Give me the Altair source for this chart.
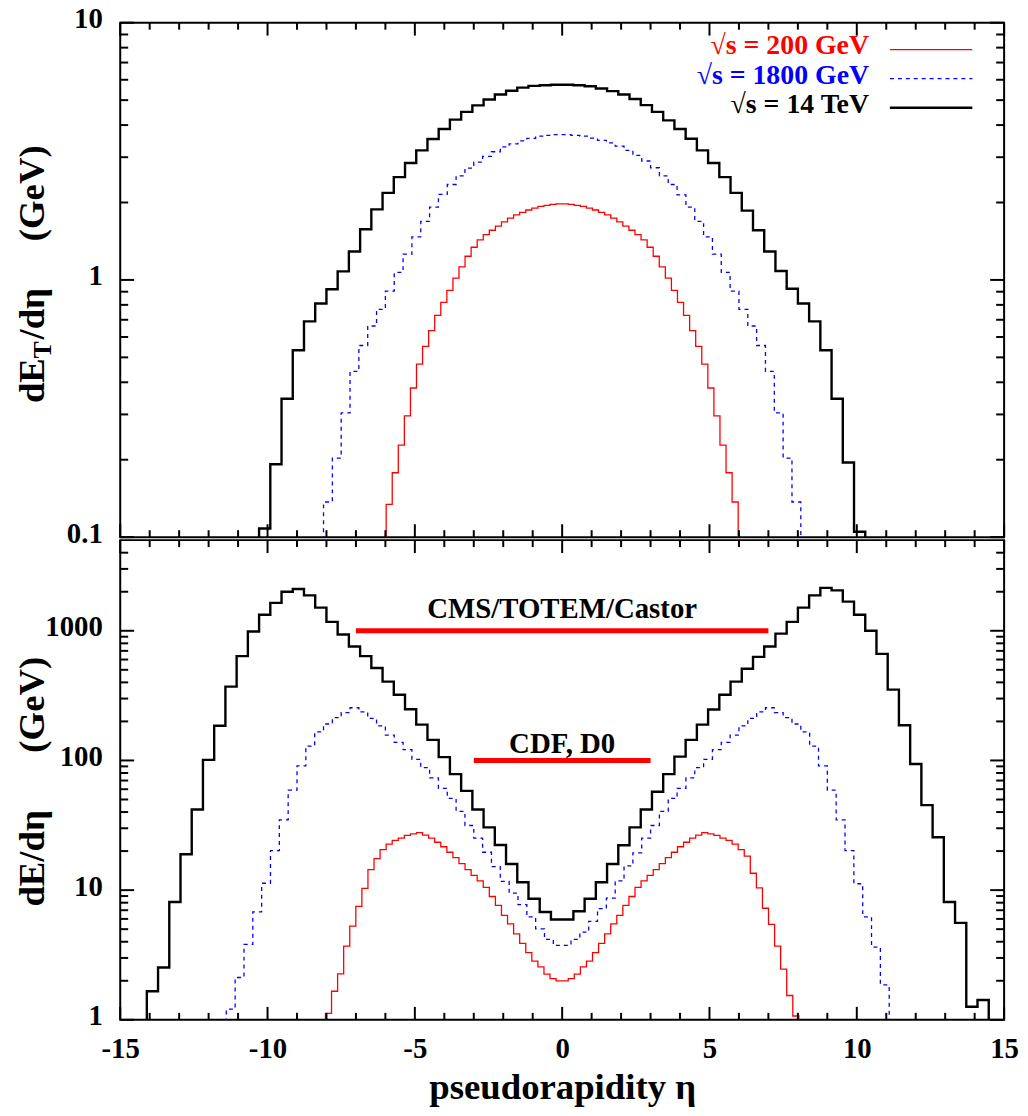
import altair as alt
import pandas as pd

# ---------------- data ----------------
SERIES = ["√s = 200 GeV", "√s = 1800 GeV", "√s = 14 TeV"]
COLORS = ["#ff0000", "#0000ff", "#000000"]
DASHES = [[1, 0], [4, 4], [1, 0]]
WIDTHS = [1.3, 1.3, 2.4]

# histogram bin widths (pseudorapidity units) and index of the first filled bin
BIN_WIDTH = [0.206, 0.3, 0.381]
TOP_FIRST_BIN = [-29, -27, -27]
BOTTOM_FIRST_BIN = [-39, -38, -37]

# upper panel: dE_T/deta (GeV)
TOP_RED = [0.134, 0.178, 0.228, 0.296, 0.38, 0.471, 0.552, 0.635, 0.728, 0.818,
           0.91, 1.016, 1.125, 1.236, 1.34, 1.43, 1.5, 1.56, 1.62, 1.68,
           1.74, 1.79, 1.83, 1.87, 1.9, 1.93, 1.95, 1.965, 1.975,
           1.975, 1.965, 1.95, 1.93, 1.9, 1.87, 1.83, 1.79, 1.74, 1.68,
           1.62, 1.56, 1.5, 1.43, 1.34, 1.236, 1.125, 1.016, 0.91, 0.818,
           0.728, 0.635, 0.552, 0.471, 0.38, 0.296, 0.228, 0.178, 0.137]
TOP_BLUE = [0.137, 0.203, 0.304, 0.441, 0.556, 0.662, 0.769, 0.904, 1.07, 1.26,
            1.47, 1.69, 1.92, 2.15, 2.35, 2.54, 2.72, 2.87, 3.02, 3.15,
            3.29, 3.38, 3.47, 3.55, 3.62, 3.65, 3.67,
            3.67, 3.65, 3.62, 3.56, 3.49, 3.41, 3.31, 3.19, 3.05, 2.9,
            2.73, 2.54, 2.35, 2.14, 1.92, 1.69, 1.47, 1.26, 1.07, 0.904,
            0.769, 0.662, 0.556, 0.441, 0.304, 0.203, 0.137]
TOP_BLACK = [0.108, 0.192, 0.345, 0.533, 0.69, 0.81, 0.92, 1.08, 1.29, 1.575,
             1.88, 2.18, 2.51, 2.85, 3.19, 3.53, 3.86, 4.2, 4.5, 4.77,
             5.03, 5.26, 5.44, 5.59, 5.68, 5.71, 5.74,
             5.74, 5.71, 5.66, 5.55, 5.42, 5.26, 5.05, 4.78, 4.5, 4.17,
             3.86, 3.54, 3.19, 2.85, 2.51, 2.18, 1.86, 1.56, 1.29, 1.083,
             0.924, 0.81, 0.69, 0.533, 0.345, 0.195, 0.105]

# lower panel: dE/deta (GeV)
BOTTOM_RED = [1.12, 1.66, 2.26, 3.7, 5.28, 7.5, 10.3, 14.4, 17.5, 20.5,
              22.6, 24.2, 25.2, 26.4, 27.2, 27.8, 26.6, 25.2, 23.4, 21.6,
              19.6, 17.8, 16.0, 14.4, 13.0, 11.8, 10.5, 8.93, 7.62, 6.39,
              5.49, 4.6, 3.88, 3.3, 2.84, 2.56, 2.25, 2.08, 2.0,
              2.0, 2.08, 2.25, 2.56, 2.84, 3.3, 3.88, 4.6, 5.49, 6.39,
              7.62, 8.93, 10.5, 11.8, 13.0, 14.4, 16.0, 17.8, 19.6, 21.6,
              23.4, 25.2, 26.6, 27.8, 27.2, 26.4, 25.2, 24.2, 22.6, 20.5,
              18.3, 13.5, 10.4, 7.25, 5.45, 3.7, 2.46, 1.54, 1.07]
BOTTOM_BLUE = [1.21, 2.12, 3.81, 6.79, 11.3, 20.2, 34.8, 59, 90.7, 129,
               166, 191, 214, 234, 255, 237, 211, 185, 157, 138,
               121, 102, 88, 73.4, 61, 51, 40.5, 31.5, 25.2, 19.6,
               15.2, 11.7, 9.5, 7.72, 6.21, 5.03, 4.17, 3.75,
               3.75, 4.17, 4.74, 5.75, 7.19, 8.68, 11.8, 15.4, 19.4, 25.2,
               31.5, 40.5, 51, 61, 73.4, 88, 102, 121, 138, 157,
               185, 211, 237, 255, 234, 214, 191, 166, 129, 90.7,
               59, 34.8, 20.2, 11.2, 6.22, 3.64, 1.86]
BOTTOM_BLACK = [1.66, 2.53, 8.1, 18.9, 41.9, 101, 185, 371, 638, 987,
                1329, 1641, 2000, 2098, 1875, 1507, 1172, 936, 757, 638,
                516, 405, 321, 248, 189, 144, 106, 78.5, 58.3, 41.9,
                30.5, 22.3, 15.9, 11.5, 8.58, 6.78, 5.93,
                5.93, 6.87, 8.58, 11.5, 15.9, 22.2, 30.5, 41.9, 57.4, 78.5,
                107, 144, 189, 247, 321, 405, 510, 629, 757, 950,
                1172, 1507, 1875, 2140, 2050, 1677, 1329, 1000, 664, 352,
                187, 94, 45.2, 25.6, 8.1, 5.59, 1.26, 1.42]

TOP_SETS = [TOP_RED, TOP_BLUE, TOP_BLACK]
BOTTOM_SETS = [BOTTOM_RED, BOTTOM_BLUE, BOTTOM_BLACK]

# detector coverage annotations (lower panel)
ANNOT_TEXT = ["CMS/TOTEM/Castor", "CDF, D0"]
ANNOT_FROM = [-7, -3]
ANNOT_TO = [7, 3]
ANNOT_LEVEL = [1000, 100]
ANNOT_DY = [-13, -8]

# axes ticks
X_MAJOR = [-15, -10, -5, 0, 5, 10, 15]
X_MINOR = [v for v in range(-14, 15) if v % 5 != 0]
TOP_Y_MAJOR = [0.1, 1, 10]
TOP_Y_MINOR = [0.2, 0.3, 0.4, 0.5, 0.6, 0.7, 0.8, 0.9, 2, 3, 4, 5, 6, 7, 8, 9]
BOTTOM_Y_MAJOR = [1, 10, 100, 1000]
BOTTOM_Y_MINOR = [2, 3, 4, 5, 6, 7, 8, 9, 20, 30, 40, 50, 60, 70, 80, 90,
                  200, 300, 400, 500, 600, 700, 800, 900, 2000, 3000, 4000]

# ---------------- layout / style ----------------
FONT = "Liberation Serif"
W = 890
H_TOP = 518
H_BOT = 483
XS = alt.Scale(domain=[-15, 15], nice=False, zero=False)
YS_TOP = alt.Scale(type="log", domain=[0.1, 10], nice=False)
YS_BOT = alt.Scale(type="log", domain=[1, 5000], nice=False)


def y_axis(values):
    return alt.Axis(values=values, labelExpr="'' + datum.value", title=None,
                    ticks=False, tickSize=0, domain=False, grid=False,
                    labelFont=FONT, labelFontWeight="bold", labelFontSize=29,
                    labelColor="black", labelPadding=18, labelOffset=-4)


Y_AXIS_TOP = y_axis(TOP_Y_MAJOR)
Y_AXIS_BOT = y_axis(BOTTOM_Y_MAJOR)
X_AXIS_BOTTOM = alt.Axis(values=X_MAJOR, labelExpr="'' + datum.value",
                         title="pseudorapidity η", ticks=False, tickSize=0,
                         domain=False, grid=False, labelFlush=False,
                         labelOverlap=False, labelFont=FONT,
                         labelFontWeight="bold", labelFontSize=29,
                         labelColor="black", labelPadding=15,
                         titleFont=FONT, titleFontWeight="bold",
                         titleFontSize=37, titleColor="black", titlePadding=6)


def hist_layer(values, first, width, yscale, floor, i, x_axis, yax):
    edges = [(first + k) * width for k in range(len(values) + 1)]
    eta = [edges[0]] + edges[:-1] + [edges[-1], edges[-1]]
    val = [floor] + list(values) + [values[-1], floor]
    df = pd.DataFrame({"eta": eta, "val": val, "order": list(range(len(eta)))})
    return alt.Chart(df).mark_line(
        interpolate="step-after", clip=True, color=COLORS[i],
        strokeWidth=WIDTHS[i], strokeDash=DASHES[i]
    ).encode(
        x=alt.X("eta:Q", scale=XS, axis=x_axis),
        y=alt.Y("val:Q", scale=yscale, axis=yax),
        order="order:Q",
    )


def x_ticks(vals, length, height, x_axis):
    df = pd.DataFrame({"v": vals})
    base = alt.Chart(df).mark_rule(color="black", strokeWidth=2)
    return [
        base.encode(x=alt.X("v:Q", scale=XS, axis=x_axis), y=alt.value(0), y2=alt.value(length)),
        base.encode(x=alt.X("v:Q", scale=XS, axis=x_axis), y=alt.value(height), y2=alt.value(height - length)),
    ]


def y_ticks(vals, length, yscale, yax):
    df = pd.DataFrame({"v": vals})
    base = alt.Chart(df).mark_rule(color="black", strokeWidth=2)
    return [
        base.encode(y=alt.Y("v:Q", scale=yscale, axis=yax), x=alt.value(0), x2=alt.value(length)),
        base.encode(y=alt.Y("v:Q", scale=yscale, axis=yax), x=alt.value(W), x2=alt.value(W - length)),
    ]


def title_piece(text, x, y, size):
    return alt.Chart(pd.DataFrame({"t": [text]})).mark_text(
        angle=270, align="left", baseline="alphabetic", font=FONT,
        fontWeight="bold", fontSize=size, color="black"
    ).encode(text="t:N", x=alt.value(x), y=alt.value(y))


# ---------------- upper panel ----------------
top_layers = []
for i in range(3):
    top_layers.append(hist_layer(TOP_SETS[i], TOP_FIRST_BIN[i], BIN_WIDTH[i], YS_TOP, 0.01, i,
                                 None, Y_AXIS_TOP))
top_layers += x_ticks(X_MAJOR, 13, H_TOP, None) + x_ticks(X_MINOR, 7, H_TOP, None)
top_layers += y_ticks(TOP_Y_MAJOR, 14, YS_TOP, Y_AXIS_TOP) + y_ticks(TOP_Y_MINOR, 8, YS_TOP, Y_AXIS_TOP)

# legend
for i in range(3):
    ypix = 27 + 29.3 * i
    top_layers.append(
        alt.Chart(pd.DataFrame({"t": [SERIES[i]]})).mark_text(
            align="right", baseline="middle", dy=-3, font=FONT, fontWeight="bold",
            fontSize=28, color=COLORS[i]
        ).encode(text="t:N", x=alt.value(754), y=alt.value(ypix))
    )
    top_layers.append(
        alt.Chart(pd.DataFrame({"t": [SERIES[i]]})).mark_rule(
            color=COLORS[i], strokeWidth=WIDTHS[i], strokeDash=DASHES[i]
        ).encode(x=alt.value(775), x2=alt.value(858), y=alt.value(ypix))
    )

# y title with subscript
top_layers += [
    title_piece("dE", -77, 383, 37),
    title_piece("T", -70, 338, 26),
    title_piece("/dη", -77, 319, 37),
    title_piece("(GeV)", -77, 220, 37),
]

top = alt.layer(*top_layers).properties(width=W, height=H_TOP)

# ---------------- lower panel ----------------
bot_layers = []
for i in range(3):
    bot_layers.append(hist_layer(BOTTOM_SETS[i], BOTTOM_FIRST_BIN[i], BIN_WIDTH[i], YS_BOT, 0.1, i,
                                 X_AXIS_BOTTOM, Y_AXIS_BOT))
bot_layers += x_ticks(X_MAJOR, 13, H_BOT, X_AXIS_BOTTOM) + x_ticks(X_MINOR, 7, H_BOT, X_AXIS_BOTTOM)
bot_layers += y_ticks(BOTTOM_Y_MAJOR, 14, YS_BOT, Y_AXIS_BOT) + y_ticks(BOTTOM_Y_MINOR, 8, YS_BOT, Y_AXIS_BOT)

for k in range(len(ANNOT_TEXT)):
    adf = pd.DataFrame({"label": [ANNOT_TEXT[k]], "x0": [ANNOT_FROM[k]],
                        "x1": [ANNOT_TO[k]], "lvl": [ANNOT_LEVEL[k]]})
    bot_layers.append(
        alt.Chart(adf).mark_rule(color="#ff0000", strokeWidth=5).encode(
            x=alt.X("x0:Q", scale=XS, axis=X_AXIS_BOTTOM), x2="x1:Q",
            y=alt.Y("lvl:Q", scale=YS_BOT, axis=Y_AXIS_BOT))
    )
    bot_layers.append(
        alt.Chart(adf).transform_calculate(xc="(datum.x0 + datum.x1) / 2").mark_text(
            baseline="alphabetic", dy=ANNOT_DY[k], font=FONT, fontWeight="bold",
            fontSize=29, color="black"
        ).encode(x=alt.X("xc:Q", scale=XS, axis=X_AXIS_BOTTOM),
                 y=alt.Y("lvl:Q", scale=YS_BOT, axis=Y_AXIS_BOT), text="label:N")
    )

bot_layers += [
    title_piece("dE/dη", -77, 369, 37),
    title_piece("(GeV)", -77, 214, 37),
]

bottom = alt.layer(*bot_layers).properties(width=W, height=H_BOT)

chart = alt.vconcat(top, bottom, spacing=3, bounds="flush").configure_view(
    stroke="black", strokeWidth=2
).properties(padding={"left": 5, "top": -8, "right": 0, "bottom": 0})

chart.save("out.html", embed_options={"renderer": "svg", "actions": False})
